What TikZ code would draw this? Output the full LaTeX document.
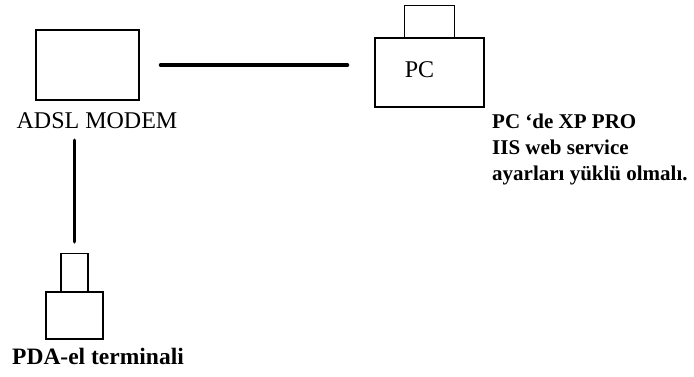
\documentclass[tikz,border=0pt]{standalone}
\usepackage{fontspec}
\setmainfont{Liberation Serif}
\usetikzlibrary{positioning}

\begin{document}
\begin{tikzpicture}[x=1pt, y=-1pt,
    unit/.style={rectangle, draw=black, fill=white, line width=1.1pt,
                 inner sep=0pt},
    caption/.style={font=\fontsize{24}{26}\selectfont, inner sep=0pt},
    note/.style={font=\bfseries\fontsize{21}{26}\selectfont, align=left,
                 inner sep=0pt},
    cable/.style={line width=3.6pt, line cap=round}
]
    \useasboundingbox (0,0) rectangle (694,376);

    % modem
    \node[unit, minimum width=103pt, minimum height=70pt] (modem) at (87.5,65) {};
    \node[caption] (modemlbl) at (97,121) {ADSL MODEM};

    % pc
    \node[unit, minimum width=109pt, minimum height=69pt,
          label={[caption, xshift=-10pt, yshift=3pt]center:PC}] (pc) at (429.5,72.5) {};
    \node[unit, minimum width=50pt, minimum height=32pt,
          above=-0.5pt of pc] (pctop) {};
    \node[note, anchor=north west] (pcnote) at (492,114) {%
        PC {`}de XP PRO\\
        IIS web service\\
        ayarları yüklü olmalı.};

    % pda
    \node[unit, minimum width=57pt, minimum height=47pt] (pda) at (74.5,315.5) {};
    \node[unit, minimum width=27pt, minimum height=38pt,
          above=-0.5pt of pda] (pdatop) {};
    \node[caption, font=\bfseries\fontsize{23.5}{26}\selectfont] (pdalbl) at (98,356) {PDA-el terminali};

    \draw[cable, shorten <=21pt, shorten >=27pt] (modem.east) -- (modem.east -| pc.west);
    \draw[cable, shorten <=11pt, shorten >=11pt] (modemlbl.south -| pdatop.north) -- (pdatop.north);
\end{tikzpicture}
\end{document}
